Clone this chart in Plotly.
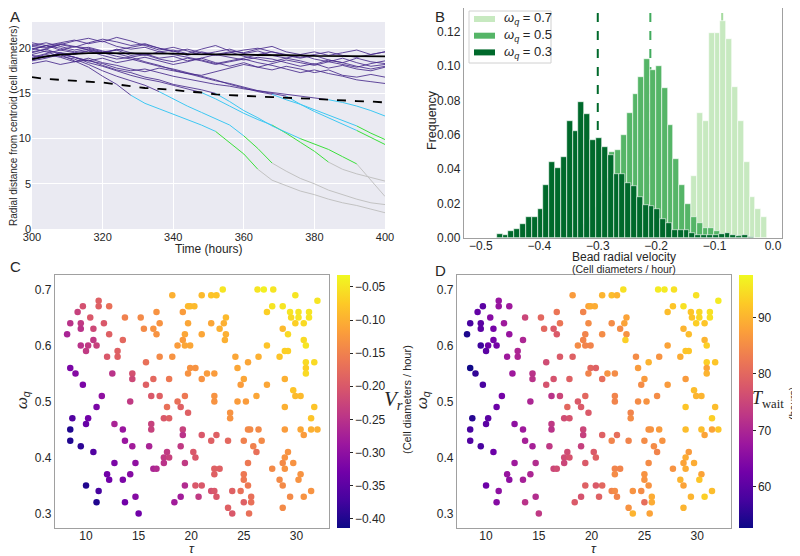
import plotly.graph_objects as go

FONT = "Liberation Sans"
TXT = "#262626"
W, H = 800, 556
OFF = 8  # the page body adds an 8px margin around the figure

# ---------------- Panel A: radial distance trajectories ----------------
T = [300, 304, 308, 312, 316, 320, 324, 328, 332, 336, 340, 344, 348,
     352, 356, 360, 364, 368, 372, 376, 380, 384, 388, 392, 396, 400]

# beads that stay near the edge (purple for the whole window)
stay_lines = [
    [19.8, 20.3, 20.6, 20.9, 20.5, 20.8, 20.2, 19.9, 20.1, 19.6, 19.8, 19.4, 19.9,
     20.3, 19.7, 19.5, 19.9, 20.2, 19.6, 19.3, 19.6, 19.2, 19.5, 19.8, 19.3, 19.6],
    [20.2, 20.0, 20.4, 20.1, 20.6, 21.0, 20.7, 20.3, 20.5, 20.0, 19.7, 19.2, 19.6,
     19.3, 19.0, 18.7, 19.0, 18.8, 18.4, 18.0, 18.3, 17.8, 18.1, 17.7, 17.5, 17.9],
    [19.0, 19.4, 19.8, 20.2, 20.0, 19.6, 19.8, 19.2, 19.4, 18.9, 19.1, 18.6, 18.9,
     19.3, 19.6, 19.1, 18.8, 18.5, 18.9, 18.6, 18.2, 18.7, 18.4, 18.9, 18.5, 18.3],
    [18.6, 18.9, 19.3, 19.0, 18.6, 18.9, 18.4, 18.7, 19.0, 18.6, 18.2, 18.5, 18.9,
     18.4, 18.0, 18.4, 17.9, 17.6, 18.0, 17.7, 17.3, 17.6, 17.0, 16.8, 17.1, 16.8],
    [19.5, 19.9, 20.4, 20.8, 21.1, 20.7, 21.2, 20.8, 20.3, 19.8, 20.1, 19.7, 19.3,
     19.6, 19.9, 19.4, 19.7, 19.2, 18.9, 19.3, 18.8, 18.5, 18.9, 18.4, 18.0, 18.2],
    [20.3, 20.6, 20.2, 19.8, 20.1, 19.7, 19.4, 19.0, 19.3, 18.8, 18.5, 18.9, 18.6,
     18.2, 18.5, 18.8, 18.4, 18.1, 17.7, 17.3, 17.6, 17.2, 16.9, 16.5, 16.3, 16.1],
    [19.2, 19.0, 19.5, 19.3, 19.7, 19.4, 19.9, 19.5, 19.2, 19.6, 19.3, 19.0, 18.7,
     18.3, 18.6, 18.9, 19.3, 19.6, 19.2, 18.9, 19.2, 18.7, 18.4, 18.0, 17.7, 18.0],
    [18.3, 18.6, 18.2, 18.5, 18.9, 18.4, 18.1, 17.7, 17.4, 17.8, 17.5, 17.2, 17.0,
     17.4, 17.8, 18.2, 17.9, 18.3, 18.7, 18.4, 18.1, 18.5, 18.2, 17.9, 18.3, 18.6],
    [20.6, 20.3, 20.0, 19.6, 19.9, 19.5, 19.8, 20.1, 20.4, 20.0, 19.6, 19.9, 19.5,
     19.2, 19.5, 19.8, 20.0, 19.6, 19.3, 19.0, 19.3, 19.6, 19.2, 19.0, 19.3, 19.6],
]

# beads that move inwards: values plus the times they switch to cyan / green / grey
drop_lines = [
    [19.6, 19.9, 19.3, 18.6, 17.9, 16.9, 16.0, 14.8, 13.9, 13.3, 12.7, 12.1, 11.5,
     10.8, 9.6, 8.3, 6.6, 5.4, 4.8, 4.2, 3.8, 3.3, 2.9, 2.6, 2.2, 1.8],
    [20.0, 19.6, 19.1, 18.8, 18.2, 17.5, 16.9, 16.4, 15.9, 15.2, 14.4, 13.6, 12.9,
     12.2, 11.5, 10.3, 8.9, 7.3, 6.4, 5.6, 5.0, 4.3, 3.8, 3.3, 2.9, 2.7],
    [19.3, 19.7, 19.5, 19.0, 18.4, 18.0, 17.5, 17.0, 16.6, 16.3, 15.9, 15.5, 15.1,
     14.4, 13.6, 12.8, 12.1, 11.5, 10.6, 9.6, 8.6, 7.4, 6.6, 6.1, 5.7, 5.3],
    [18.9, 19.3, 19.0, 18.5, 18.7, 18.1, 17.6, 17.3, 16.8, 16.5, 16.0, 15.7, 15.4,
     15.0, 14.1, 13.1, 12.3, 11.4, 10.7, 10.0, 9.4, 8.8, 8.0, 7.2, 5.4, 3.6],
    [18.7, 19.1, 19.4, 19.0, 18.6, 18.3, 17.8, 17.5, 17.7, 17.3, 16.9, 16.6, 16.3,
     16.0, 15.8, 15.5, 15.3, 15.1, 14.9, 14.7, 14.5, 14.3, 14.0, 13.6, 13.1, 12.5],
    [20.4, 20.1, 20.5, 20.2, 19.8, 19.5, 19.1, 18.8, 18.4, 18.0, 17.7, 17.3, 16.9,
     16.5, 16.0, 15.6, 15.2, 14.9, 14.3, 13.8, 13.2, 12.6, 12.0, 11.4, 10.6, 9.9],
    [19.9, 20.3, 19.8, 19.5, 19.7, 19.2, 18.8, 19.0, 18.5, 18.1, 17.6, 17.2, 16.8,
     16.4, 16.1, 15.7, 15.3, 15.0, 14.7, 13.8, 13.0, 12.3, 11.6, 10.9, 10.1, 9.35],
]
t_cyan = [328, 336, 348, 352, 384, 368, 372]
t_green = [352, 360, 368, 376, None, 392, 392]
t_grey = [364, 368, 384, 392, None, None, None]

edge_mean = [18.8, 19.1, 19.3, 19.4, 19.45, 19.45, 19.45, 19.45, 19.4, 19.4, 19.4,
             19.35, 19.35, 19.3, 19.3, 19.3, 19.25, 19.25, 19.2, 19.2, 19.15, 19.15,
             19.1, 19.1, 19.1, 19.1]
threshold = [16.8, 16.6, 16.5, 16.4, 16.3, 16.2, 16.0, 15.8, 15.6, 15.5, 15.4, 15.2,
             15.1, 14.9, 14.8, 14.7, 14.65, 14.6, 14.5, 14.45, 14.4, 14.3, 14.25,
             14.15, 14.1, 14.0]

# ---------------- Panel B: histograms of radial velocity ----------------
v_07 = [-0.175, -0.165, -0.155, -0.145, -0.135, -0.125, -0.115, -0.105, -0.095,
        -0.085, -0.075, -0.065, -0.055, -0.045, -0.035, -0.025, -0.015]
f_07 = [0.001, 0.002, 0.005, 0.011, 0.036, 0.073, 0.068, 0.119, 0.119,
        0.126, 0.116, 0.088, 0.068, 0.044, 0.024, 0.017, 0.012]

v_05 = [-0.3555, -0.3455, -0.3355, -0.3255, -0.3155, -0.3055, -0.2955, -0.2855,
        -0.2755, -0.2655, -0.2555, -0.2455, -0.2355, -0.2255, -0.2155, -0.2055,
        -0.1955, -0.1855, -0.1755, -0.1655, -0.1555, -0.1455, -0.1355, -0.1255,
        -0.1155, -0.1055, -0.0955, -0.0855, -0.0755, -0.0655, -0.0555, -0.0455]
f_05 = [0.001, 0.002, 0.004, 0.008, 0.012, 0.018, 0.026, 0.035,
        0.050, 0.051, 0.060, 0.073, 0.084, 0.0935, 0.104, 0.098,
        0.100, 0.087, 0.066, 0.046, 0.031, 0.020, 0.012, 0.009,
        0.006, 0.006, 0.004, 0.0025, 0.0015, 0.001, 0.0015, 0.001]

v_03 = [-0.468, -0.458, -0.448, -0.438, -0.428, -0.418, -0.408, -0.398, -0.388,
        -0.378, -0.368, -0.358, -0.348, -0.338, -0.328, -0.318, -0.308, -0.298,
        -0.288, -0.278, -0.268, -0.258, -0.248, -0.238, -0.228, -0.218, -0.208,
        -0.198, -0.188, -0.178, -0.168, -0.158, -0.148, -0.138, -0.128, -0.118,
        -0.108, -0.098, -0.088, -0.078, -0.068, -0.058, -0.048, -0.038]
f_03 = [0.0025, 0.0016, 0.004, 0.0055, 0.008, 0.012, 0.012, 0.017, 0.031,
        0.044, 0.041, 0.047, 0.068, 0.062, 0.079, 0.072, 0.057, 0.058,
        0.053, 0.048, 0.0375, 0.037, 0.032, 0.030, 0.024, 0.019, 0.0185,
        0.017, 0.011, 0.009, 0.0045, 0.0045, 0.0045, 0.003, 0.002, 0.0015,
        0.002, 0.0015, 0.0025, 0.003, 0.0015, 0.001, 0.0015, 0.0008]

mean_v = {"0.7": -0.087, "0.5": -0.210, "0.3": -0.300}

# ---------------- Panels C/D: parameter sweep ----------------
tau = [
    23.0, 26.3, 26.9, 27.8,                                   # 0.70
    18.2, 21.0, 21.9, 22.4, 29.9,                             # 0.69
    11.2, 32.0,                                               # 0.68
    9.7, 11.2, 12.2, 19.7, 19.9, 20.3, 27.7, 28.7,            # 0.67
    9.2, 16.7, 19.2, 27.2, 29.4, 30.2, 31.2,                  # 0.66
    10.4, 13.7, 15.2, 23.3, 29.5, 30.2, 31.2,                 # 0.65
    8.5, 9.5, 11.7, 17.0, 19.7, 21.9, 23.1, 29.9, 30.7,       # 0.64
    9.5, 10.7, 15.5, 16.4, 22.7, 28.7,                        # 0.63
    8.2, 12.2, 16.7, 19.4, 21.0, 23.3, 29.2,                  # 0.62
    10.7, 13.5, 19.2, 23.2, 30.7,                             # 0.61
    9.5, 10.2, 11.0, 18.7, 19.4, 19.9, 27.2, 30.9,            # 0.60
    10.0, 13.0, 28.9, 29.2,                                   # 0.59
    12.0, 13.0, 17.0, 18.2, 24.2, 26.4, 28.4,                 # 0.58
    15.7, 25.4, 30.9, 31.7,                                   # 0.57
    8.5, 19.9, 20.4, 24.4, 30.9,                              # 0.56
    9.0, 12.5, 14.4, 19.7, 21.5, 22.2, 30.9,                  # 0.55
    14.4, 16.4, 17.9, 21.0, 25.0, 28.9,                       # 0.54
    9.7, 15.7, 24.7, 27.2,                                    # 0.53
    29.7,                                                     # 0.52
    11.5, 16.2, 17.0, 19.4, 22.2, 26.2, 29.9, 30.4,           # 0.51
    14.2, 18.7, 22.2, 24.4, 25.2,                             # 0.50
    11.0, 17.7, 19.0, 28.9, 31.7,                             # 0.49
    19.7, 23.7,                                               # 0.48
    8.7, 10.2, 17.4, 17.9, 23.7, 31.4,                        # 0.47
    10.0, 12.7, 16.2,                                         # 0.46
    8.5, 13.5, 16.2, 19.2, 25.4, 25.6, 26.4, 28.9, 30.4, 31.4, 32.0,  # 0.45
    19.2, 21.0, 22.4, 30.7,                                   # 0.44
    8.5, 13.7, 21.9, 23.5, 25.0, 26.7,                        # 0.43
    9.5, 14.4, 16.0, 19.0, 25.9,                              # 0.42
    10.7, 17.7, 20.2, 26.2, 29.2,                             # 0.41
    17.4, 17.9, 20.4, 28.9,                                   # 0.40
    12.7, 14.7, 17.4, 19.4, 25.4, 28.7, 29.7,                 # 0.39
    16.4, 16.7, 22.2, 22.7, 27.7, 28.9,                       # 0.38
    12.0, 14.2, 22.2, 25.0, 30.4,                             # 0.37
    12.2, 13.5, 25.0, 28.4, 30.2,                             # 0.36
    10.0, 19.4, 20.4, 21.0, 25.4, 28.7,                       # 0.35
    11.2, 21.9, 22.2, 23.9, 24.7, 31.4,                       # 0.34
    14.7, 19.0, 20.7, 22.4, 25.7, 29.4, 30.7,                 # 0.33
    11.0, 13.7, 18.4, 25.0, 25.7,                             # 0.32
    23.5, 28.7,                                               # 0.31
    15.0, 23.9, 25.5,                                         # 0.30
]
omega = [
    0.70, 0.70, 0.70, 0.70,
    0.69, 0.69, 0.69, 0.69, 0.69,
    0.68, 0.68,
    0.67, 0.67, 0.67, 0.67, 0.67, 0.67, 0.67, 0.67,
    0.66, 0.66, 0.66, 0.66, 0.66, 0.66, 0.66,
    0.65, 0.65, 0.65, 0.65, 0.65, 0.65, 0.65,
    0.64, 0.64, 0.64, 0.64, 0.64, 0.64, 0.64, 0.64, 0.64,
    0.63, 0.63, 0.63, 0.63, 0.63, 0.63,
    0.62, 0.62, 0.62, 0.62, 0.62, 0.62, 0.62,
    0.61, 0.61, 0.61, 0.61, 0.61,
    0.60, 0.60, 0.60, 0.60, 0.60, 0.60, 0.60, 0.60,
    0.59, 0.59, 0.59, 0.59,
    0.58, 0.58, 0.58, 0.58, 0.58, 0.58, 0.58,
    0.57, 0.57, 0.57, 0.57,
    0.56, 0.56, 0.56, 0.56, 0.56,
    0.55, 0.55, 0.55, 0.55, 0.55, 0.55, 0.55,
    0.54, 0.54, 0.54, 0.54, 0.54, 0.54,
    0.53, 0.53, 0.53, 0.53,
    0.52,
    0.51, 0.51, 0.51, 0.51, 0.51, 0.51, 0.51, 0.51,
    0.50, 0.50, 0.50, 0.50, 0.50,
    0.49, 0.49, 0.49, 0.49, 0.49,
    0.48, 0.48,
    0.47, 0.47, 0.47, 0.47, 0.47, 0.47,
    0.46, 0.46, 0.46,
    0.45, 0.45, 0.45, 0.45, 0.45, 0.45, 0.45, 0.45, 0.45, 0.45, 0.45,
    0.44, 0.44, 0.44, 0.44,
    0.43, 0.43, 0.43, 0.43, 0.43, 0.43,
    0.42, 0.42, 0.42, 0.42, 0.42,
    0.41, 0.41, 0.41, 0.41, 0.41,
    0.40, 0.40, 0.40, 0.40,
    0.39, 0.39, 0.39, 0.39, 0.39, 0.39, 0.39,
    0.38, 0.38, 0.38, 0.38, 0.38, 0.38,
    0.37, 0.37, 0.37, 0.37, 0.37,
    0.36, 0.36, 0.36, 0.36, 0.36,
    0.35, 0.35, 0.35, 0.35, 0.35, 0.35,
    0.34, 0.34, 0.34, 0.34, 0.34, 0.34,
    0.33, 0.33, 0.33, 0.33, 0.33, 0.33, 0.33,
    0.32, 0.32, 0.32, 0.32, 0.32,
    0.31, 0.31,
    0.30, 0.30, 0.30,
]
v_r = [
    -0.05, -0.05, -0.04, -0.05,
    -0.10, -0.09, -0.08, -0.08, -0.05,
    -0.19, -0.05,
    -0.21, -0.19, -0.17, -0.09, -0.09, -0.09, -0.05, -0.05,
    -0.23, -0.13, -0.12, -0.07, -0.05, -0.05, -0.05,
    -0.20, -0.15, -0.14, -0.09, -0.06, -0.05, -0.05,
    -0.25, -0.24, -0.20, -0.13, -0.11, -0.11, -0.10, -0.07, -0.06,
    -0.25, -0.22, -0.14, -0.13, -0.10, -0.09,
    -0.27, -0.19, -0.13, -0.11, -0.11, -0.10, -0.06,
    -0.24, -0.18, -0.12, -0.10, -0.06,
    -0.25, -0.24, -0.23, -0.12, -0.11, -0.11, -0.08, -0.05,
    -0.24, -0.19, -0.07, -0.07,
    -0.20, -0.19, -0.14, -0.13, -0.11, -0.10, -0.08,
    -0.17, -0.11, -0.06, -0.06,
    -0.32, -0.13, -0.13, -0.11, -0.07,
    -0.31, -0.25, -0.21, -0.13, -0.12, -0.12, -0.06,
    -0.22, -0.18, -0.16, -0.13, -0.11, -0.10,
    -0.32, -0.19, -0.12, -0.11,
    -0.08,
    -0.30, -0.20, -0.19, -0.16, -0.13, -0.11, -0.09, -0.09,
    -0.24, -0.17, -0.13, -0.12, -0.12,
    -0.32, -0.17, -0.19, -0.10, -0.08,
    -0.19, -0.13,
    -0.36, -0.33, -0.20, -0.19, -0.13, -0.08,
    -0.34, -0.27, -0.23,
    -0.40, -0.29, -0.23, -0.23, -0.14, -0.14, -0.14, -0.12, -0.11, -0.10, -0.10,
    -0.25, -0.20, -0.19, -0.12,
    -0.40, -0.29, -0.19, -0.18, -0.15, -0.14,
    -0.39, -0.28, -0.27, -0.24, -0.15,
    -0.36, -0.24, -0.20, -0.17, -0.13,
    -0.24, -0.23, -0.20, -0.13,
    -0.32, -0.30, -0.25, -0.24, -0.16, -0.14, -0.13,
    -0.27, -0.26, -0.19, -0.19, -0.14, -0.13,
    -0.33, -0.31, -0.19, -0.16, -0.13,
    -0.33, -0.32, -0.16, -0.14, -0.13,
    -0.40, -0.26, -0.20, -0.20, -0.16, -0.14,
    -0.37, -0.21, -0.20, -0.19, -0.17, -0.13,
    -0.31, -0.28, -0.24, -0.20, -0.17, -0.14, -0.13,
    -0.40, -0.33, -0.28, -0.19, -0.17,
    -0.19, -0.14,
    -0.33, -0.20, -0.17,
]
t_wait = [
    95, 96, 96, 95,
    87, 90, 91, 90, 95,
    67, 96,
    60, 67, 68, 88, 89, 89, 92, 95,
    61, 82, 84, 91, 92, 94, 95,
    65, 75, 80, 88, 92, 94, 95,
    58, 60, 68, 82, 85, 85, 88, 93, 92,
    60, 63, 80, 78, 85, 90,
    54, 67, 78, 84, 85, 86, 91,
    63, 70, 84, 93, 90,
    57, 62, 63, 85, 84, 84, 88, 93,
    60, 70, 92, 92,
    68, 70, 78, 79, 85, 86, 89,
    76, 90, 93, 92,
    53, 80, 79, 87, 88,
    56, 68, 72, 84, 86, 85, 90,
    72, 77, 79, 81, 87, 87,
    58, 77, 85, 87,
    91,
    63, 72, 75, 80, 84, 85, 90, 90,
    70, 78, 84, 85, 86,
    62, 80, 78, 92, 91,
    78, 84,
    55, 60, 76, 77, 85, 93,
    60, 66, 73,
    58, 68, 72, 75, 86, 86, 87, 91, 91, 88, 92,
    74, 79, 81, 88,
    59, 69, 84, 84, 85, 86,
    58, 69, 73, 74, 85,
    62, 76, 78, 84, 87,
    76, 77, 79, 89,
    68, 71, 75, 78, 85, 88, 89,
    75, 76, 84, 84, 86, 89,
    67, 70, 85, 86, 88,
    66, 69, 86, 90, 92,
    62, 79, 78, 80, 86, 88,
    66, 84, 85, 86, 85, 91,
    71, 77, 79, 84, 89, 90, 93,
    65, 72, 78, 81, 89,
    86, 90,
    73, 90, 88,
]


def px(x):
    return min(max((x - OFF) / W, 0.0), 1.0)


def py(y):
    return min(max(1 - (y - OFF) / H, 0.0), 1.0)


PURPLE = "rgba(72,42,140,0.85)"
CYAN = "#3ec8f2"
GREEN = "#3be03b"
GREY = "#c2c2c2"

fig = go.Figure()

# --- A ---
for ys in stay_lines:
    fig.add_trace(go.Scatter(x=T, y=ys, mode="lines", line=dict(color=PURPLE, width=1),
                             showlegend=False, hoverinfo="skip", xaxis="x", yaxis="y"))

for ys, tc, tg, tr in zip(drop_lines, t_cyan, t_green, t_grey):
    cuts = [T[0], tc] + [t for t in (tg, tr) if t is not None] + [T[-1]]
    cols = [PURPLE, CYAN, GREEN, GREY]
    for k in range(len(cuts) - 1):
        i0, i1 = T.index(cuts[k]), T.index(cuts[k + 1])
        fig.add_trace(go.Scatter(x=T[i0:i1 + 1], y=ys[i0:i1 + 1], mode="lines",
                                 line=dict(color=cols[k], width=1),
                                 showlegend=False, hoverinfo="skip", xaxis="x", yaxis="y"))

fig.add_trace(go.Scatter(x=T, y=edge_mean, mode="lines", line=dict(color="black", width=1.8),
                         showlegend=False, xaxis="x", yaxis="y"))
fig.add_trace(go.Scatter(x=T, y=threshold, mode="lines",
                         line=dict(color="black", width=1.8, dash="dash"),
                         showlegend=False, xaxis="x", yaxis="y"))

# --- B ---
hist = [("0.7", v_07, f_07, "#c7e9c0"), ("0.5", v_05, f_05, "#55b567"), ("0.3", v_03, f_03, "#00692b")]
for lab, xs, fs, col in hist:
    fig.add_trace(go.Bar(x=xs, y=fs, width=0.01, marker=dict(color=col, line=dict(color="white", width=0.6)),
                         name="ω_q = " + lab, showlegend=False, xaxis="x2", yaxis="y2"))

line_cols = {"0.7": "#a6dba0", "0.5": "#41ab5d", "0.3": "#00692b"}
shapes = []
for lab, xv in mean_v.items():
    shapes.append(dict(type="line", xref="x2", yref="y2 domain", x0=xv, x1=xv, y0=0, y1=1,
                       line=dict(color=line_cols[lab], width=2, dash="dash"), layer="below"))
# dark-grid background for A
shapes.append(dict(type="rect", xref="x domain", yref="y domain", x0=0, x1=1, y0=0, y1=1,
                   fillcolor="#eaeaf2", line=dict(width=0), layer="below"))
# matplotlib-style legend box for B
shapes.append(dict(type="rect", xref="paper", yref="paper", x0=px(469), x1=px(551),
                   y0=py(63), y1=py(11), fillcolor="rgba(255,255,255,0.85)",
                   line=dict(color="#d0d0d0", width=1), layer="above"))
for i, (lab, xs, fs, col) in enumerate(hist):
    yc = 19 + 16.7 * i
    shapes.append(dict(type="rect", xref="paper", yref="paper", x0=px(474), x1=px(495),
                       y0=py(yc + 3), y1=py(yc - 3), fillcolor=col, line=dict(width=0),
                       layer="above"))

# --- C & D ---
fig.add_trace(go.Scatter(
    x=tau, y=omega, mode="markers", xaxis="x3", yaxis="y3", showlegend=False,
    marker=dict(size=6.5, color=v_r, colorscale="Plasma", cmin=-0.414, cmax=-0.032,
                colorbar=dict(x=px(337), xanchor="left", y=py(528), yanchor="bottom",
                              len=253 / H, lenmode="fraction", thickness=13, outlinewidth=0,
                              xpad=0, ypad=0,
                              tickvals=[-0.40, -0.35, -0.30, -0.25, -0.20, -0.15, -0.10, -0.05],
                              tickformat=".2f", ticks="outside", ticklen=3, tickcolor=TXT,
                              tickfont=dict(family=FONT, size=12, color=TXT)))))
fig.add_trace(go.Scatter(
    x=tau, y=omega, mode="markers", xaxis="x4", yaxis="y4", showlegend=False,
    marker=dict(size=6.5, color=t_wait, colorscale="Plasma", cmin=52.7, cmax=97.5,
                colorbar=dict(x=px(739), xanchor="left", y=py(528), yanchor="bottom",
                              len=253 / H, lenmode="fraction", thickness=14, outlinewidth=0,
                              xpad=0, ypad=0, tickvals=[60, 70, 80, 90], ticks="outside",
                              ticklen=3, tickcolor=TXT,
                              tickfont=dict(family=FONT, size=12, color=TXT)))))

tick_font = dict(family=FONT, size=11, color=TXT)
box = dict(showline=True, mirror=True, linecolor="#a0a0a0", linewidth=1.3, showgrid=False,
           zeroline=False, ticks="", automargin=False,
           tickfont=dict(family=FONT, size=12, color=TXT))

fig.update_layout(
    width=W, height=H, margin=dict(l=0, r=0, t=0, b=0, autoexpand=False),
    paper_bgcolor="white", plot_bgcolor="white",
    font=dict(family=FONT, color=TXT),
    barmode="overlay", bargap=0, showlegend=False,
    shapes=shapes,
    xaxis=dict(domain=[px(32), px(385)], anchor="y", range=[300, 400],
               tickvals=[300, 320, 340, 360, 380, 400], showgrid=True, gridcolor="white",
               gridwidth=1, zeroline=False, showline=False, ticks="", automargin=False,
               tickfont=tick_font),
    yaxis=dict(domain=[py(229), py(22)], anchor="x", range=[0, 22.9],
               tickvals=[0, 5, 10, 15, 20], showgrid=True, gridcolor="white",
               gridwidth=1, zeroline=False, showline=False, ticks="", automargin=False,
               tickfont=tick_font),
    xaxis2=dict(domain=[px(464), px(782)], anchor="y2", range=[-0.529, 0.0154],
                tickvals=[-0.5, -0.4, -0.3, -0.2, -0.1, 0.0], tickformat=".1f",
                ticklabelstandoff=-4, **box),
    yaxis2=dict(domain=[py(238), py(8)], anchor="x2", range=[0, 0.1338],
                tickvals=[0, 0.02, 0.04, 0.06, 0.08, 0.10, 0.12], tickformat=".2f", **box),
    xaxis3=dict(domain=[px(55), px(329)], anchor="y3", range=[7.05, 33.1],
                tickvals=[10, 15, 20, 25, 30], ticklabelstandoff=-4, **box),
    yaxis3=dict(domain=[py(528), py(275)], anchor="x3", range=[0.274, 0.726],
                tickvals=[0.3, 0.4, 0.5, 0.6, 0.7], tickformat=".1f", **box),
    xaxis4=dict(domain=[px(457), px(731)], anchor="y4", range=[7.25, 33.2],
                tickvals=[10, 15, 20, 25, 30], ticklabelstandoff=-4, **box),
    yaxis4=dict(domain=[py(528), py(275)], anchor="x4", range=[0.274, 0.726],
                tickvals=[0.3, 0.4, 0.5, 0.6, 0.7], tickformat=".1f", **box),
)


def note(text, x, y, size=12, angle=0, family=FONT, xanchor="center"):
    fig.add_annotation(text=text, x=px(x), y=py(y), xref="paper", yref="paper",
                       showarrow=False, textangle=angle, xanchor=xanchor, yanchor="middle",
                       font=dict(family=family, size=size, color=TXT))


# panel letters
note("A", 15, 16, size=15)
note("B", 440, 16, size=15)
note("C", 15, 266, size=15)
note("D", 440, 270, size=15)

# A titles
note("Radial distance from centroid (cell diameters)", 13, 126, size=10, angle=-90)
note("Time (hours)", 209, 249, size=12)
# B titles
note("Frequency", 432, 120, size=12.5, angle=-90)
note("Bead radial velocity", 624, 257, size=12)
note("(Cell diameters / hour)", 624, 269, size=10.5)
# B legend labels
for i, (lab, xs, fs, col) in enumerate(hist):
    note("<i>ω<sub>q</sub></i> = " + lab, 502, 19 + 16.7 * i, size=13, xanchor="left")
# C titles
note("<i>ω<sub>q</sub></i>", 23, 400, size=15, angle=-90)
note("<i>τ</i>", 192, 548, size=13)
note("<i>V<sub>r</sub></i>", 393, 400, size=21, family="Liberation Serif")
note("(Cell diameters / hour)", 407, 400, size=11, angle=-90)
# D titles
note("<i>ω<sub>q</sub></i>", 423, 400, size=15, angle=-90)
note("<i>τ</i>", 594, 548, size=13)
note("<i>T</i><sub>wait</sub>", 750, 400, size=18, family="Liberation Serif", xanchor="left")
note("(hours)", 793, 404, size=10.5, angle=-90)

fig.write_html("out.html")
